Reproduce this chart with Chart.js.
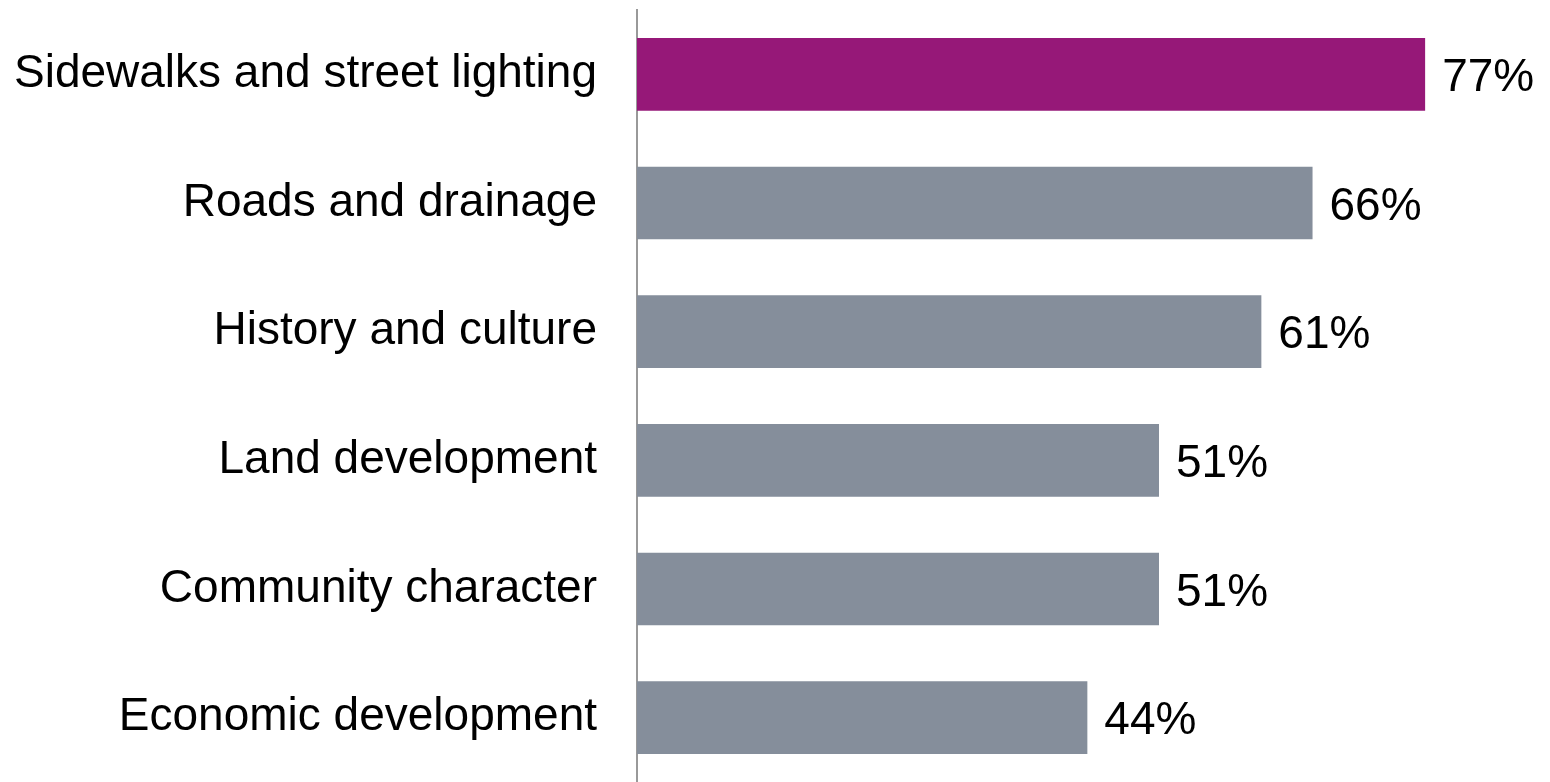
<!DOCTYPE html>
<html><head><meta charset="utf-8">
<script src="https://cdn.jsdelivr.net/npm/chart.js@4/dist/chart.umd.min.js"></script>
<style>html,body{margin:0;padding:0;background:#fff;}#wrap{width:1550px;height:782px;position:relative;}</style>
</head><body><div id="wrap"><canvas id="c"></canvas></div>
<script>
const categories = ["Sidewalks and street lighting","Roads and drainage","History and culture","Land development","Community character","Economic development"];
const values = [77,66,61,51,51,44];
const barColors = ["#961878","#858E9B","#858E9B","#858E9B","#858E9B","#858E9B"];
const FONT = "'Liberation Sans',Arial,sans-serif";

const labelPlugin = {
  id:'valueLabels',
  afterDatasetsDraw(chart){
    const ctx = chart.ctx;
    const meta = chart.getDatasetMeta(0);
    ctx.save();
    ctx.font = "46px " + FONT;
    ctx.fillStyle = "#000";
    ctx.textAlign = "left";
    ctx.textBaseline = "middle";
    meta.data.forEach((bar,i)=>{
      ctx.fillText(values[i] + "%", bar.x + 17, bar.y + 4);
    });
    ctx.restore();
  }
};

new Chart(document.getElementById('c'), {
  type:'bar',
  data:{labels:categories, datasets:[{data:values, backgroundColor:barColors, categoryPercentage:1, barPercentage:0.565}]},
  options:{
    indexAxis:'y', responsive:true, maintainAspectRatio:false, animation:false,
    layout:{padding:{top:10,right:0,bottom:-3,left:0}},
    plugins:{legend:{display:false}, tooltip:{enabled:false}},
    scales:{
      x:{display:false, min:0, max:89.2},
      y:{
        grid:{display:false, drawTicks:false},
        border:{display:true, color:'#999999', width:2},
        ticks:{color:'#000', padding:40, font:{family:FONT, size:46, lineHeight:1.0}},
        afterFit(s){ s.width = 637; s.paddingTop = 0; s.paddingBottom = 0; }
      }
    }
  },
  plugins:[labelPlugin]
});
</script></body></html>
